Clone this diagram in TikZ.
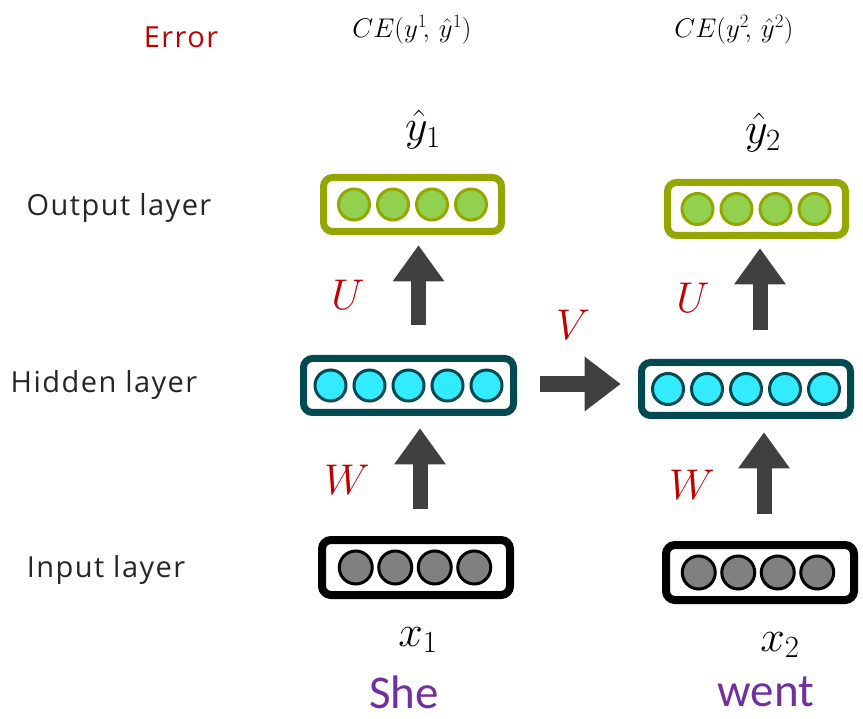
\documentclass[tikz,border=0pt]{standalone}
\usepackage{fix-cm}
\usepackage{fontspec}
\setmainfont{Carlito}
\newfontfamily\layerfont[LetterSpace=5]{Open Sans}
\usetikzlibrary{arrows.meta}

\definecolor{errred}{RGB}{192,0,0}
\definecolor{wordpurple}{RGB}{112,48,160}
\definecolor{olivebox}{RGB}{148,166,0}
\definecolor{leafgreen}{RGB}{146,208,80}
\definecolor{tealbox}{RGB}{2,74,81}
\definecolor{cyanunit}{RGB}{51,235,255}
\definecolor{greyunit}{RGB}{128,128,128}
\definecolor{arrowgrey}{RGB}{64,64,64}
\definecolor{textgrey}{RGB}{38,38,38}

\begin{document}
\begin{tikzpicture}[x=1pt,y=-1pt,
    vecbox/.style={draw, rounded corners=9pt, line width=7pt, fill=white,
        minimum width=#1, minimum height=54pt, inner sep=0pt},
    unit/.style={circle, draw, line width=3pt, minimum size=31pt, inner sep=0pt},
    blockarrow/.style={draw=arrowgrey, line width=15pt,
        -{Triangle[length=36pt,width=52pt,line width=0pt]}},
    layertext/.style={font=\layerfont\fontsize{29}{34}\selectfont, text=textgrey},
    weighttext/.style={font=\fontsize{43}{50}\selectfont, text=errred},
    wordtext/.style={font=\fontsize{47}{56}\selectfont, text=wordpurple, inner sep=0pt},
    losstext/.style={font=\fontsize{27}{30}\selectfont, inner sep=1pt}]

\useasboundingbox (0,0) rectangle (863,719);

% Layer names on the left
\node[layertext, text=errred] (err) at (181,37) {Error};
\node[layertext] (outname) at (119,208) {Output layer};
\node[layertext] (hidname) at (104,385) {Hidden layer};
\node[layertext] (inname) at (106,570) {Input layer};

% Output layer vectors
\node[vecbox=178pt, draw=olivebox] (out1) at (412.5,204.5) {};
\node[vecbox=178pt, draw=olivebox, minimum height=53pt] (out2) at (756.5,209) {};
\foreach \k in {1,...,4}{
    \node[unit, draw=olivebox, fill=leafgreen] (out1-\k) at ([xshift={(\k-2.5)*39pt}]out1.center) {};
    \node[unit, draw=olivebox, fill=leafgreen] (out2-\k) at ([xshift={(\k-2.5)*39pt-0.5pt}]out2.center) {};
}

% Hidden layer vectors
\node[vecbox=210pt, draw=tealbox] (hid1) at (408.5,385.5) {};
\node[vecbox=209pt, draw=tealbox, minimum height=53pt] (hid2) at (746,389) {};
\foreach \k in {1,...,5}{
    \node[unit, draw=tealbox, fill=cyanunit] (hid1-\k) at ([xshift={(\k-3)*39pt}]hid1.center) {};
    \node[unit, draw=tealbox, fill=cyanunit] (hid2-\k) at ([xshift={(\k-3)*39pt}]hid2.center) {};
}

% Input layer vectors
\node[vecbox=188pt, draw=black, line width=8pt, minimum height=55pt] (in1) at (416,567.5) {};
\node[vecbox=188pt, draw=black, line width=8pt, minimum height=55pt] (in2) at (760,572.5) {};
\foreach \k in {1,...,4}{
    \node[unit, draw=black, fill=greyunit, minimum size=33pt] (in1-\k) at ([xshift={(\k-2.5)*39.5pt-1pt}]in1.center) {};
    \node[unit, draw=black, fill=greyunit, minimum size=33pt] (in2-\k) at ([xshift={(\k-2.5)*39.5pt-2pt}]in2.center) {};
}

% Columns and row for the arrows
\coordinate (colU1) at (418.5,0);
\coordinate (colW1) at (420,0);
\coordinate (colU2) at (760,0);
\coordinate (colW2) at (764,0);
\coordinate (rowV) at (0,384);

% Weight arrows
\draw[blockarrow, shorten <=29.5pt, shorten >=10.5pt] (hid1.north -| colU1) -- (out1.south -| colU1);
\draw[blockarrow, shorten <=27pt, shorten >=12.5pt] (in1.north -| colW1) -- (hid1.south -| colW1);
\draw[blockarrow, shorten <=28.5pt, shorten >=9.5pt] (hid2.north -| colU2) -- (out2.south -| colU2);
\draw[blockarrow, shorten <=27pt, shorten >=13.5pt] (in2.north -| colW2) -- (hid2.south -| colW2);
\draw[blockarrow, line width=16pt, -{Triangle[length=36pt,width=55pt,line width=0pt]},
    shorten <=22.5pt, shorten >=17.5pt] (hid1.east |- rowV) -- (hid2.west |- rowV);

% Weight names
\node[weighttext] (u1) at (348,295) {$U$};
\node[weighttext] (w1) at (347,480) {$W$};
\node[weighttext] (u2) at (693,298) {$U$};
\node[weighttext] (w2) at (692,485) {$W$};
\node[weighttext] (v) at (573,325) {$V$};

% Predictions and losses
\node[font=\fontsize{44}{50}\selectfont, inner sep=0pt] (yhat1) at (423,130) {$\hat{y}_1$};
\node[font=\fontsize{44}{50}\selectfont, inner sep=0pt] (yhat2) at (763,133) {$\hat{y}_2$};
\node[losstext] (ce1) at (412,30) {$CE(y^{1}\!,\,\hat{y}^{1})$};
\node[losstext] (ce2) at (734,30) {$CE(y^{2}\!,\,\hat{y}^{2})$};

% Inputs and words
\node[font=\fontsize{44}{50}\selectfont, inner sep=0pt] (x1) at (418,640) {$x_1$};
\node[font=\fontsize{44}{50}\selectfont, inner sep=0pt] (x2) at (780,645) {$x_2$};
\node[wordtext] (she) at (404,692) {She};
\node[wordtext] (went) at (766,692) {went};

\end{tikzpicture}
\end{document}
